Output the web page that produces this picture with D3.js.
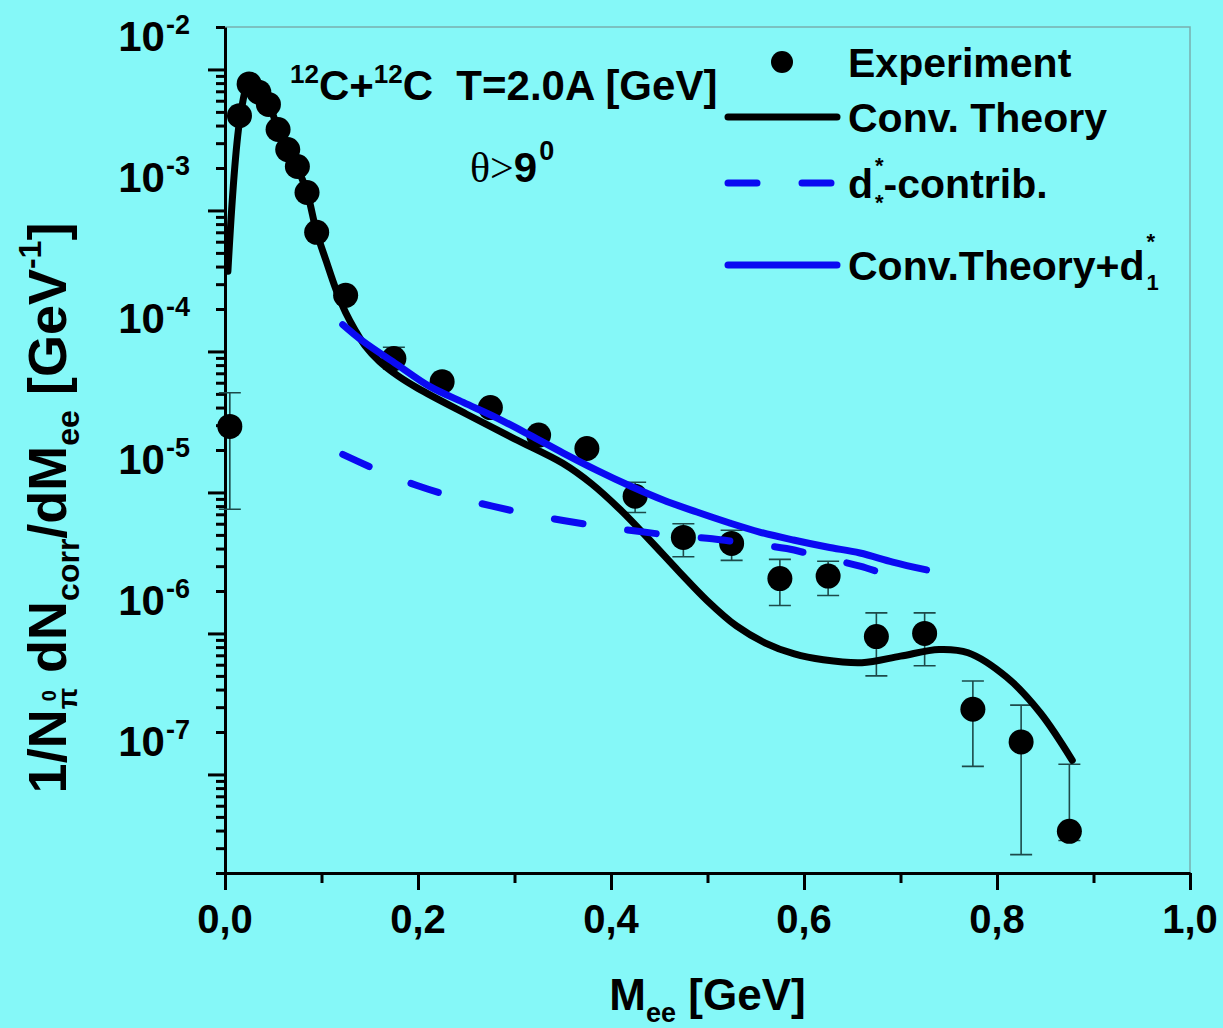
<!DOCTYPE html>
<html>
<head>
<meta charset="utf-8">
<script src="https://cdn.jsdelivr.net/npm/d3@7"></script>
<style>
  html, body { margin: 0; padding: 0; background: #85f8f8; }
  svg { display: block; }
  text { font-family: "Liberation Sans", Arial, Helvetica, sans-serif; font-weight: bold; fill: #000; white-space: pre; }
</style>
</head>
<body>
<svg id="chart" width="1223" height="1028"></svg>
<script>
// ---- Experimental points: invariant mass (GeV), yield, error bar limits ----
const expMass  = [0.005, 0.015, 0.025, 0.035, 0.045, 0.055, 0.065, 0.075, 0.085, 0.095,
                  0.125, 0.175, 0.225, 0.275, 0.325, 0.375, 0.425, 0.475, 0.525, 0.575,
                  0.625, 0.675, 0.725, 0.775, 0.825, 0.875];
const expYield = [2.94e-5, 4.7e-3, 7.9e-3, 6.9e-3, 5.65e-3, 3.75e-3, 2.7e-3, 2.05e-3, 1.34e-3, 7.0e-4,
                  2.5e-4, 8.9e-5, 6.1e-5, 4.0e-5, 2.55e-5, 2.05e-5, 9.4e-6, 4.8e-6, 4.35e-6, 2.45e-6,
                  2.55e-6, 9.5e-7, 1.0e-6, 2.9e-7, 1.7e-7, 3.95e-8];
const expErrHi = [5.1e-5, null, null, null, null, null, null, null, null, null,
                  null, 1.07e-4, null, null, null, null, 1.18e-5, 6.0e-6, 5.4e-6, 3.35e-6,
                  3.25e-6, 1.4e-6, 1.4e-6, 4.6e-7, 3.1e-7, 1.18e-7];
const expErrLo = [7.6e-6, null, null, null, null, null, null, null, null, null,
                  null, 7.5e-5, null, null, null, null, 7.2e-6, 3.5e-6, 3.3e-6, 1.58e-6,
                  1.86e-6, 5.0e-7, 5.9e-7, 1.14e-7, 2.7e-8, 3.4e-8];

// ---- Conventional theory (black solid) ----
const convMass  = [0.003, 0.016, 0.025, 0.035, 0.045, 0.055, 0.065, 0.075, 0.085, 0.095,
                   0.105, 0.115, 0.125, 0.135, 0.145, 0.16, 0.18, 0.2, 0.25, 0.3,
                   0.35, 0.38, 0.41, 0.44, 0.47, 0.5, 0.53, 0.56, 0.59, 0.62,
                   0.66, 0.7, 0.74, 0.77, 0.81, 0.845, 0.878];
const convYield = [3.7e-4, 4.7e-3, 7.9e-3, 6.9e-3, 5.7e-3, 3.8e-3, 2.7e-3, 2.0e-3, 1.35e-3, 7.0e-4,
                   4.35e-4, 2.75e-4, 1.89e-4, 1.41e-4, 1.1e-4, 8.5e-5, 6.65e-5, 5.47e-5, 3.6e-5, 2.4e-5,
                   1.61e-5, 1.15e-5, 7.5e-6, 4.6e-6, 2.77e-6, 1.7e-6, 1.13e-6, 8.55e-7, 7.15e-7, 6.5e-7,
                   6.2e-7, 6.9e-7, 7.7e-7, 7.3e-7, 4.9e-7, 2.73e-7, 1.26e-7];

// ---- d* contribution (blue dashed) ----
const dstarMass  = [0.122, 0.159, 0.199, 0.235, 0.277, 0.311, 0.352, 0.389, 0.428, 0.464,
                    0.505, 0.541, 0.582, 0.617, 0.658, 0.694];
const dstarYield = [1.86e-5, 1.43e-5, 1.12e-5, 9.4e-6, 8.0e-6, 7.1e-6, 6.3e-6, 5.75e-6, 5.3e-6, 4.95e-6,
                    4.7e-6, 4.35e-6, 4.0e-6, 3.5e-6, 3.0e-6, 2.5e-6];

// ---- Conventional theory + d1* (blue solid) ----
const sumMass  = [0.122, 0.143, 0.178, 0.212, 0.247, 0.282, 0.316, 0.35, 0.385, 0.42,
                  0.454, 0.489, 0.523, 0.554, 0.589, 0.624, 0.658, 0.692, 0.727];
const sumYield = [1.55e-4, 1.18e-4, 8.1e-5, 5.65e-5, 4.35e-5, 3.37e-5, 2.55e-5, 1.91e-5, 1.44e-5, 1.11e-5,
                  8.83e-6, 7.26e-6, 6.07e-6, 5.24e-6, 4.6e-6, 4.1e-6, 3.72e-6, 3.21e-6, 2.82e-6];

// ---- Axes ----
const xDomain = [0, 1];
const xMajorTicks = [0, 0.2, 0.4, 0.6, 0.8, 1.0];
const xTickLabels = ["0,0", "0,2", "0,4", "0,6", "0,8", "1,0"];
const xMinorTicks = [0.1, 0.3, 0.5, 0.7, 0.9];
const yDomain = [2e-8, 2e-2];
const yTickExponents = [-7, -6, -5, -4, -3, -2];

const legendLabels = ["Experiment", "Conv. Theory", "d", "-contrib.", "Conv.Theory+d"];

// ---------------------------------------------------------------
const svg = d3.select("#chart");
const plot = { left: 225, right: 1190, top: 27, bottom: 873 };
const BLUE = "#0a0af2";

const x = d3.scaleLinear().domain(xDomain).range([plot.left, plot.right]);
const y = d3.scaleLog().domain(yDomain).range([plot.bottom, plot.top]);

// Lays out a run of text pieces (with sub/superscripts, optionally stacked) and
// returns a group whose origin is the anchor point on the baseline.
function rich(parent, pieces, anchor) {
  const outer = parent.append("g");
  const inner = outer.append("g");
  let cx = 0, prevStart = 0;
  pieces.forEach(p => {
    const el = inner.append("text")
      .attr("y", -(p.shift || 0))
      .style("font-size", p.size + "px")
      .text(p.t);
    if (p.weight) el.style("font-weight", p.weight);
    if (p.family) el.style("font-family", p.family);
    const w = el.node().getComputedTextLength();
    let sx;
    if (p.stack) { sx = prevStart + (p.gap || 0); cx = Math.max(cx, sx + w); }
    else { sx = cx + (p.gap || 0); cx = sx + w; prevStart = sx; }
    el.attr("x", sx);
  });
  const off = anchor === "middle" ? -cx / 2 : anchor === "end" ? -cx : 0;
  inner.attr("transform", `translate(${off},0)`);
  return outer;
}

// Frame lines (top and right)
svg.append("path")
  .attr("d", `M${plot.left},${plot.top}H${plot.right}V${plot.bottom}`)
  .attr("fill", "none").attr("stroke", "#78aeae").attr("stroke-width", 1.5);

// Y minor tick values k*10^n
const yMinor = [];
for (let e = -8; e <= -2; e++) {
  for (let k = 2; k <= 9; k++) {
    const v = k * Math.pow(10, e);
    if (v >= yDomain[0] * 0.999 && v <= yDomain[1] * 1.001) yMinor.push(v);
  }
}

function styleAxis(g) {
  g.select(".domain").attr("stroke", "#000").attr("stroke-width", 3);
  g.selectAll(".tick line").attr("stroke", "#000").attr("stroke-width", 3);
  g.selectAll(".tick text").remove();
}

// X axis
const gxMinor = svg.append("g").attr("transform", `translate(0,${plot.bottom})`)
  .call(d3.axisBottom(x).tickValues(xMinorTicks).tickSize(10).tickSizeOuter(0).tickFormat(""));
styleAxis(gxMinor);
gxMinor.select(".domain").remove();
const gx = svg.append("g").attr("transform", `translate(0,${plot.bottom})`)
  .call(d3.axisBottom(x).tickValues(xMajorTicks).tickSize(17).tickSizeOuter(0).tickFormat(""));
styleAxis(gx);

xMajorTicks.forEach((v, i) => {
  svg.append("text").attr("x", x(v)).attr("y", 933)
    .attr("text-anchor", "middle").style("font-size", "40px").text(xTickLabels[i]);
});

// Y axis
const gyMinor = svg.append("g").attr("transform", `translate(${plot.left},0)`)
  .call(d3.axisLeft(y).tickValues(yMinor).tickSize(9).tickSizeOuter(0).tickFormat(""));
styleAxis(gyMinor);
gyMinor.select(".domain").remove();
const gy = svg.append("g").attr("transform", `translate(${plot.left},0)`)
  .call(d3.axisLeft(y).tickValues(yTickExponents.map(e => Math.pow(10, e))).tickSize(17).tickSizeOuter(0).tickFormat(""));
styleAxis(gy);

yTickExponents.forEach(e => {
  const ty = y(Math.pow(10, e));
  rich(svg, [
    { t: "10", size: 42 },
    { t: String(e), size: 27, shift: 17, gap: 1 }
  ], "end").attr("transform", `translate(190,${ty - 18})`);
});

// Axis titles
rich(svg, [
  { t: "M", size: 44 },
  { t: "ee", size: 27, shift: -12 },
  { t: " [GeV]", size: 44 }
], "middle").attr("transform", `translate(${(plot.left + plot.right) / 2},1010)`);

rich(svg, [
  { t: "1/N", size: 54 },
  { t: "\u03c0", size: 28, shift: -11 },
  { t: "0", size: 20, shift: 10, stack: true, gap: 8 },
  { t: " dN", size: 54 },
  { t: "corr", size: 32, shift: -13 },
  { t: "/dM", size: 54 },
  { t: "ee", size: 32, shift: -13 },
  { t: " [GeV", size: 54 },
  { t: "-1", size: 32, shift: 25 },
  { t: "]", size: 54 }
], "middle").attr("transform", "translate(66,508) rotate(-90)");

// Error bars
const errData = expMass.map((m, i) => ({ m, lo: expErrLo[i], hi: expErrHi[i] }))
  .filter(d => d.lo !== null && d.hi !== null);
const eb = svg.append("g").attr("stroke", "#1d4a4a").attr("stroke-width", 1.6).attr("fill", "none");
eb.selectAll("path").data(errData).join("path")
  .attr("d", d => {
    const cx = x(d.m), y1 = y(d.hi), y2 = y(d.lo);
    return `M${cx},${y1}V${y2}M${cx - 11},${y1}H${cx + 11}M${cx - 11},${y2}H${cx + 11}`;
  });

// Experimental markers
svg.append("g").selectAll("circle")
  .data(expMass.map((m, i) => ({ m, v: expYield[i] })))
  .join("circle")
  .attr("cx", d => x(d.m)).attr("cy", d => y(d.v)).attr("r", 12.5).attr("fill", "#000");

// Theory curves
const line = d3.line().x(d => x(d[0])).y(d => y(d[1])).curve(d3.curveCatmullRom.alpha(0.5));
const zip = (a, b) => a.map((v, i) => [v, b[i]]);

svg.append("path").datum(zip(convMass, convYield))
  .attr("d", line).attr("fill", "none").attr("stroke", "#000")
  .attr("stroke-width", 7).attr("stroke-linejoin", "round").attr("stroke-linecap", "round");

svg.append("path").datum(zip(dstarMass, dstarYield))
  .attr("d", line).attr("fill", "none").attr("stroke", BLUE)
  .attr("stroke-width", 7).attr("stroke-dasharray", "29,45").attr("stroke-linecap", "round");

svg.append("path").datum(zip(sumMass, sumYield))
  .attr("d", line).attr("fill", "none").attr("stroke", BLUE)
  .attr("stroke-width", 7).attr("stroke-linejoin", "round").attr("stroke-linecap", "round");

// Annotations
rich(svg, [
  { t: "12", size: 26, shift: 17 },
  { t: "C+", size: 42 },
  { t: "12", size: 26, shift: 17 },
  { t: "C  T=2.0A [GeV]", size: 42 }
], "start").attr("transform", "translate(290,100)");

rich(svg, [
  { t: "\u03b8>", size: 42, weight: "normal", family: "'Liberation Serif', 'Times New Roman', serif" },
  { t: "9", size: 42 },
  { t: "0", size: 27, shift: 22, gap: 2 }
], "start").attr("transform", "translate(470,182)");

// Legend
const lg = svg.append("g");
const lx1 = 728, lx2 = 837, tx = 848;
lg.append("circle").attr("cx", 782).attr("cy", 62).attr("r", 11).attr("fill", "#000");
lg.append("line").attr("x1", lx1).attr("x2", lx2).attr("y1", 117).attr("y2", 117)
  .attr("stroke", "#000").attr("stroke-width", 7).attr("stroke-linecap", "round");
lg.append("line").attr("x1", lx1).attr("x2", lx2).attr("y1", 183).attr("y2", 183)
  .attr("stroke", BLUE).attr("stroke-width", 7).attr("stroke-dasharray", "29,45").attr("stroke-linecap", "round");
lg.append("line").attr("x1", lx1).attr("x2", lx2).attr("y1", 265).attr("y2", 265)
  .attr("stroke", BLUE).attr("stroke-width", 7).attr("stroke-linecap", "round");

rich(lg, [{ t: legendLabels[0], size: 41 }], "start").attr("transform", `translate(${tx},77)`);
rich(lg, [{ t: legendLabels[1], size: 41 }], "start").attr("transform", `translate(${tx},132)`);
rich(lg, [
  { t: legendLabels[2], size: 41 },
  { t: "*", size: 22, shift: 25, gap: 2 },
  { t: "*", size: 22, shift: -12, stack: true },
  { t: legendLabels[3], size: 41 }
], "start").attr("transform", `translate(${tx},198)`);
rich(lg, [
  { t: legendLabels[4], size: 41 },
  { t: "*", size: 22, shift: 31, gap: 2 },
  { t: "1", size: 22, shift: -10, stack: true }
], "start").attr("transform", `translate(${tx},280)`);
</script>
</body>
</html>
